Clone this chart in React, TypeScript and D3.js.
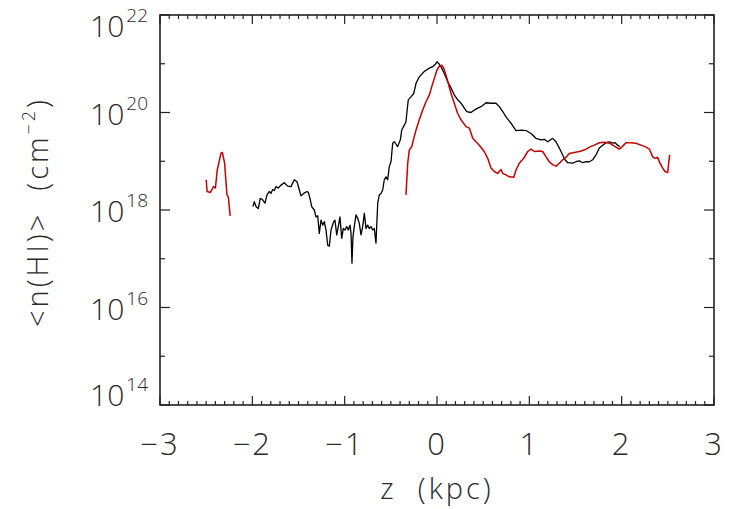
import React from "react";
import * as d3 from "d3";

// Column density profiles: [z (kpc), log10 <n(HI)> (cm^-2)]
const redLeft: [number, number][] = [
  [-2.5, 18.62], [-2.49, 18.38], [-2.455, 18.36], [-2.42, 18.48], [-2.4, 18.45],
  [-2.38, 18.82], [-2.34, 19.16], [-2.325, 19.18], [-2.3, 18.96], [-2.275, 18.31],
  [-2.26, 18.27], [-2.24, 17.88],
];

const blackProfile: [number, number][] = [
  [-1.993, 18.07], [-1.979, 18.17], [-1.957, 18.06], [-1.935, 18.03], [-1.914, 18.24],
  [-1.888, 18.21], [-1.863, 18.14], [-1.841, 18.31], [-1.816, 18.38], [-1.798, 18.34],
  [-1.78, 18.42], [-1.762, 18.4], [-1.744, 18.48], [-1.719, 18.45], [-1.69, 18.51],
  [-1.654, 18.56], [-1.617, 18.49], [-1.581, 18.48], [-1.546, 18.62], [-1.516, 18.58],
  [-1.491, 18.41], [-1.473, 18.29], [-1.444, 18.34], [-1.408, 18.38], [-1.394, 18.36],
  [-1.372, 18.21], [-1.357, 18.07], [-1.329, 18.0], [-1.311, 17.86], [-1.292, 17.88],
  [-1.275, 17.52], [-1.256, 17.79], [-1.238, 17.69], [-1.221, 17.76], [-1.202, 17.59],
  [-1.184, 17.28], [-1.166, 17.26], [-1.148, 17.59], [-1.119, 17.76], [-1.105, 17.79],
  [-1.086, 17.49], [-1.069, 17.66], [-1.051, 17.86], [-1.032, 17.42], [-1.015, 17.62],
  [-0.996, 17.59], [-0.978, 17.66], [-0.961, 17.59], [-0.942, 17.69], [-0.931, 17.52],
  [-0.921, 16.91], [-0.91, 17.45], [-0.896, 17.66], [-0.877, 17.9], [-0.859, 17.83],
  [-0.842, 17.73], [-0.823, 17.49], [-0.805, 17.66], [-0.787, 17.93], [-0.769, 17.62],
  [-0.751, 17.69], [-0.733, 17.62], [-0.715, 17.66], [-0.696, 17.59], [-0.679, 17.62],
  [-0.661, 17.32], [-0.642, 18.14], [-0.625, 18.31], [-0.607, 18.34], [-0.588, 18.41],
  [-0.571, 18.62], [-0.552, 18.68], [-0.534, 18.62], [-0.517, 18.89], [-0.498, 18.99],
  [-0.48, 19.37], [-0.462, 19.4], [-0.426, 19.3], [-0.397, 19.44], [-0.382, 19.64],
  [-0.354, 19.74], [-0.336, 19.81], [-0.325, 20.02], [-0.311, 20.26], [-0.282, 20.32],
  [-0.252, 20.39], [-0.227, 20.6], [-0.192, 20.73], [-0.138, 20.84], [-0.083, 20.91],
  [-0.047, 20.94], [-0.018, 20.99], [0.0, 21.04], [0.025, 20.99], [0.051, 20.91],
  [0.079, 20.8], [0.116, 20.63], [0.152, 20.5], [0.187, 20.36], [0.224, 20.26],
  [0.26, 20.19], [0.296, 20.09], [0.322, 20.02], [0.368, 20.0], [0.404, 20.05],
  [0.441, 20.09], [0.477, 20.12], [0.531, 20.2], [0.585, 20.19], [0.639, 20.19],
  [0.675, 20.12], [0.712, 20.02], [0.747, 19.91], [0.801, 19.78], [0.856, 19.63],
  [0.91, 19.64], [0.964, 19.63], [1.018, 19.57], [1.072, 19.47], [1.126, 19.44],
  [1.162, 19.45], [1.199, 19.4], [1.253, 19.47], [1.289, 19.4], [1.325, 19.27],
  [1.361, 19.13], [1.386, 19.03], [1.416, 18.97], [1.47, 18.96], [1.505, 18.99],
  [1.541, 19.01], [1.578, 18.97], [1.614, 18.99], [1.65, 18.99], [1.686, 19.03],
  [1.722, 19.13], [1.758, 19.27], [1.795, 19.33], [1.83, 19.38], [1.866, 19.4],
  [1.903, 19.37], [1.928, 19.38], [1.957, 19.33], [1.979, 19.3],
];

const redMain: [number, number][] = [
  [-0.336, 18.31], [-0.317, 18.96], [-0.3, 19.23], [-0.274, 19.3], [-0.252, 19.47],
  [-0.227, 19.64], [-0.192, 19.85], [-0.155, 20.05], [-0.119, 20.22], [-0.083, 20.36],
  [-0.057, 20.53], [-0.029, 20.7], [0.0, 20.87], [0.025, 20.95], [0.051, 20.97],
  [0.073, 20.91], [0.097, 20.77], [0.122, 20.6], [0.152, 20.39], [0.187, 20.19],
  [0.224, 19.98], [0.26, 19.85], [0.314, 19.71], [0.35, 19.68], [0.387, 19.47],
  [0.422, 19.4], [0.458, 19.33], [0.512, 19.2], [0.549, 19.06], [0.585, 18.86],
  [0.621, 18.79], [0.657, 18.75], [0.693, 18.83], [0.712, 18.75], [0.747, 18.72],
  [0.783, 18.68], [0.831, 18.67], [0.856, 18.82], [0.891, 18.96], [0.939, 19.06],
  [0.982, 19.2], [1.018, 19.25], [1.054, 19.2], [1.108, 19.21], [1.145, 19.2],
  [1.181, 19.09], [1.216, 18.99], [1.253, 18.93], [1.289, 18.9], [1.325, 18.96],
  [1.361, 19.03], [1.397, 19.08], [1.433, 19.16], [1.487, 19.18], [1.541, 19.2],
  [1.595, 19.23], [1.65, 19.29], [1.704, 19.33], [1.758, 19.38], [1.812, 19.39],
  [1.866, 19.37], [1.903, 19.33], [1.939, 19.29], [1.975, 19.25], [2.011, 19.31],
  [2.047, 19.38], [2.101, 19.38], [2.155, 19.37], [2.209, 19.33], [2.264, 19.29],
  [2.3, 19.25], [2.336, 19.09], [2.361, 19.06], [2.39, 19.08], [2.415, 18.96],
  [2.444, 18.86], [2.469, 18.79], [2.499, 18.77], [2.509, 18.96], [2.52, 19.13],
];

const xTicks = [-3, -2, -1, 0, 1, 2, 3];
const yExponents = [14, 16, 18, 20, 22];

const W = 731;
const H = 509;
const left = 160;
const right = 714;
const top = 15;
const bottom = 405;

const FONT = "'Open Sans', Lato, 'DejaVu Sans', sans-serif";
const AXIS = "#222";
const INK = "#2a2a2a";

export default function App() {
  const x = d3.scaleLinear().domain([-3, 3]).range([left, right]);
  const y = d3.scaleLog().domain([1e14, 1e22]).range([bottom, top]);

  const line = d3
    .line<[number, number]>()
    .x((d) => x(d[0]))
    .y((d) => y(Math.pow(10, d[1])));

  const xMinor = d3.range(-30, 31).map((i) => i / 10).filter((v) => Math.abs(v - Math.round(v)) > 1e-6);
  const yMinor = d3.range(15, 22, 2);

  return (
    <svg width={W} height={H} style={{ position: "absolute", left: 0, top: 0, background: "#fff" }}>
      <rect x={0} y={0} width={W} height={H} fill="#fff" />

      {/* data */}
      <g fill="none" strokeLinejoin="round">
        <path d={line(blackProfile) ?? ""} stroke="#000" strokeWidth={1.3} />
        <path d={line(redLeft) ?? ""} stroke="#c80000" strokeWidth={1.5} />
        <path d={line(redMain) ?? ""} stroke="#c80000" strokeWidth={1.5} />
      </g>

      {/* frame */}
      <rect x={left} y={top} width={right - left} height={bottom - top} fill="none" stroke={AXIS} strokeWidth={1.6} />

      {/* ticks on all four sides */}
      <g stroke={AXIS} strokeWidth={1.2}>
        {xTicks.map((t) => (
          <g key={`xt${t}`}>
            <line x1={x(t)} x2={x(t)} y1={bottom} y2={bottom - 9} />
            <line x1={x(t)} x2={x(t)} y1={top} y2={top + 9} />
          </g>
        ))}
        {xMinor.map((t) => (
          <g key={`xm${t}`}>
            <line x1={x(t)} x2={x(t)} y1={bottom} y2={bottom - 4} />
            <line x1={x(t)} x2={x(t)} y1={top} y2={top + 4} />
          </g>
        ))}
        {yExponents.map((e) => (
          <g key={`yt${e}`}>
            <line x1={left} x2={left + 10} y1={y(Math.pow(10, e))} y2={y(Math.pow(10, e))} />
            <line x1={right} x2={right - 10} y1={y(Math.pow(10, e))} y2={y(Math.pow(10, e))} />
          </g>
        ))}
        {yMinor.map((e) => (
          <g key={`ym${e}`}>
            <line x1={left} x2={left + 5} y1={y(Math.pow(10, e))} y2={y(Math.pow(10, e))} />
            <line x1={right} x2={right - 5} y1={y(Math.pow(10, e))} y2={y(Math.pow(10, e))} />
          </g>
        ))}
      </g>

      {/* tick labels */}
      <g fontFamily={FONT} fontWeight={300} fill={INK}>
        {xTicks.map((t) => (
          <text key={`xl${t}`} x={x(t)} y={455} fontSize={31} textAnchor="middle" letterSpacing={2}>
            {t < 0 ? `\u2212${Math.abs(t)}` : `${t}`}
          </text>
        ))}
        {yExponents.map((e) => {
          const base = Math.min(Math.max(y(Math.pow(10, e)) + 12, 37), 406);
          return (
            <text key={`yl${e}`} x={148} y={base} fontSize={30} textAnchor="end">
              10
              <tspan dy={-15} dx={2} fontSize={19}>
                {e}
              </tspan>
            </text>
          );
        })}
      </g>

      {/* axis titles */}
      <g fontFamily={FONT} fontWeight={300} fill={INK} fontSize={29}>
        <text x={437} y={499} textAnchor="middle" letterSpacing={3} style={{ whiteSpace: "pre" }}>
          {"z  (kpc)"}
        </text>
        <text
          transform={`translate(48,212) rotate(-90)`}
          textAnchor="middle"
          letterSpacing={3}
          style={{ whiteSpace: "pre" }}
        >
          {"<n(HI)>  (cm"}
          <tspan dy={-13} fontSize={18}>
            {"\u22122"}
          </tspan>
          <tspan dy={13}>{")"}</tspan>
        </text>
      </g>
    </svg>
  );
}
